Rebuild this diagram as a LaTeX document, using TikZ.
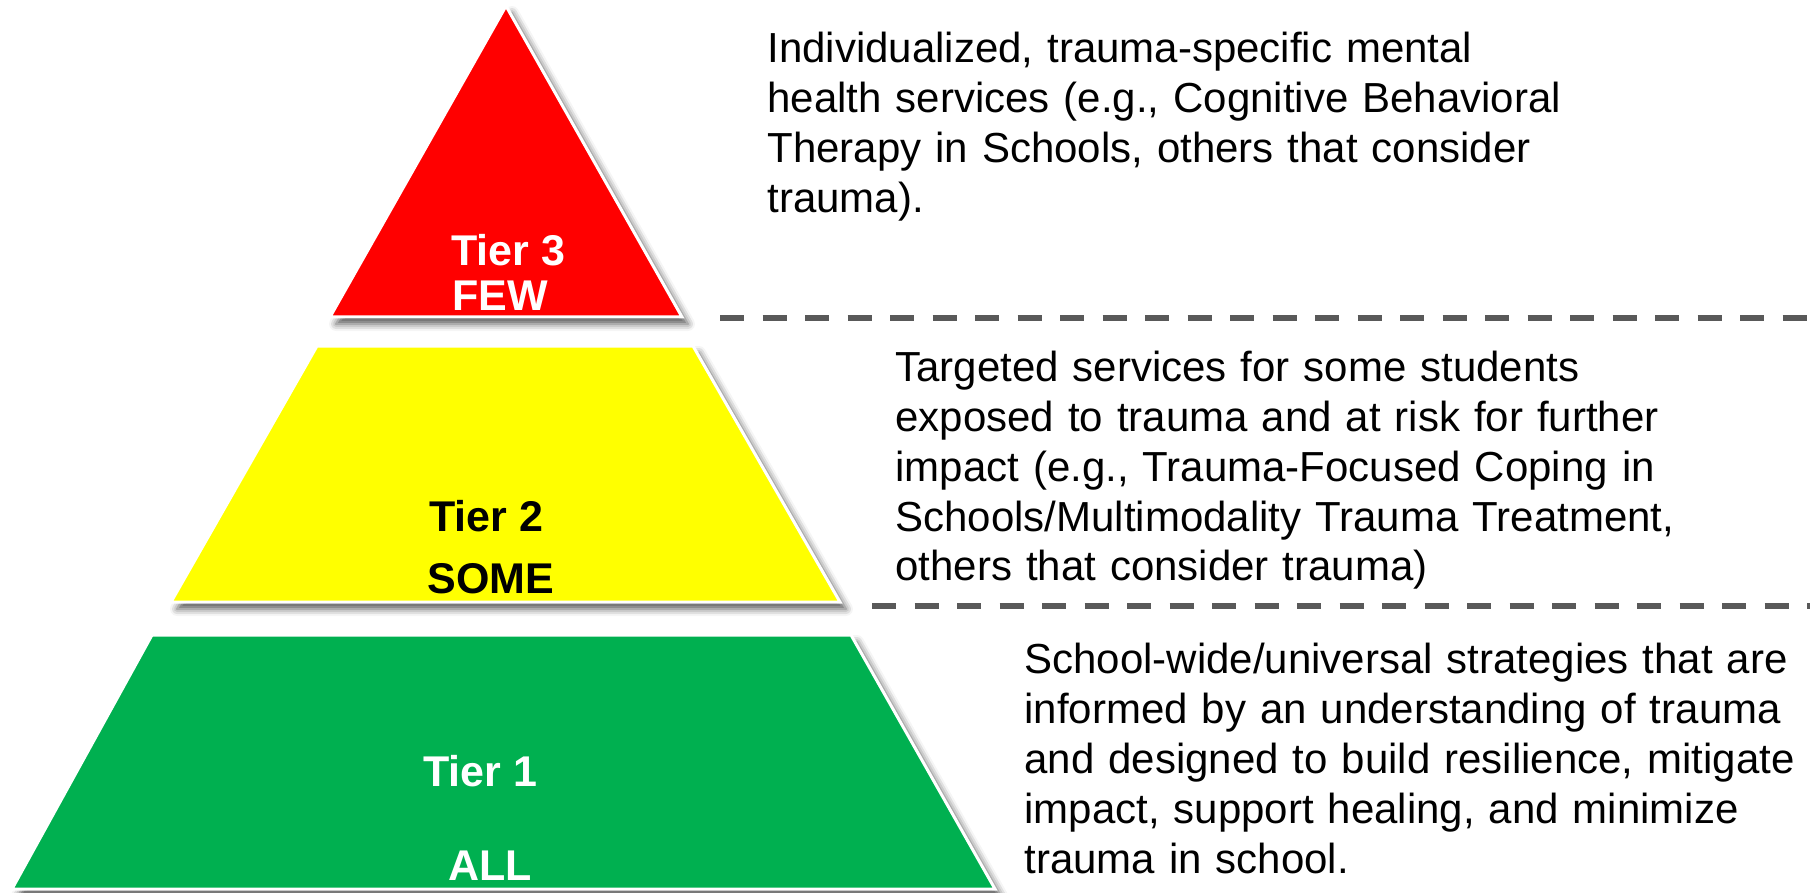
\documentclass[tikz,border=0pt]{standalone}
\usepackage{fontspec}
\setmainfont{Liberation Sans}
\usetikzlibrary{shadows.blur}
\definecolor{tierred}{HTML}{FF0000}
\definecolor{tieryellow}{HTML}{FFFF00}
\definecolor{tiergreen}{HTML}{00B050}
\definecolor{sepgrey}{HTML}{595959}
\begin{document}
\begin{tikzpicture}[x=0.5pt,y=-0.5pt,
  tier/.style={draw=white, line width=1.5pt, line join=miter,
    blur shadow={shadow xshift=3pt, shadow yshift=-3.5pt,
      shadow blur radius=3.5pt, shadow opacity=65}},
  tierlabel/.style={font=\bfseries\fontsize{21.5}{25}\selectfont,
    inner sep=0pt, anchor=base},
  desc/.style={font=\fontsize{21}{25}\selectfont, inner sep=0pt,
    anchor=base west, text width=440pt, align=left},
  sep/.style={draw=sepgrey, line width=3.3pt, dash pattern=on 12pt off 9.25pt}]
\useasboundingbox (0,0) rectangle (1810,893);

% pyramid levels
\path[tier, fill=tierred] (506,6) -- (682,317) -- (330,317) -- cycle;
\path[tier, fill=tieryellow] (317,346) -- (693,346) -- (840,602) -- (171,602) -- cycle;
\path[tier, fill=tiergreen] (152,635) -- (851,635) -- (995,889) -- (12,889) -- cycle;

% level labels
\node[tierlabel, text=white] (t3) at (508,266) {Tier 3};
\node[tierlabel, text=white] (few) at (500,311) {FEW};
\node[tierlabel] (t2) at (486,531) {Tier 2};
\node[tierlabel] (some) at (491,593) {SOME};
\node[tierlabel, text=white] (t1) at (480,786) {Tier 1};
\node[tierlabel, text=white] (all) at (490,880) {ALL};

% separators
\coordinate (s1a) at (720,318);
\coordinate (s1b) at (1810,318);
\coordinate (s2a) at (872,606);
\coordinate (s2b) at (1810,606);
\draw[sep] (s1a) -- (s1b);
\draw[sep] (s2a) -- (s2b);

% descriptions
\node[desc] (d3) at (767,63) {Individualized, trauma-specific mental\\
health services (e.g., Cognitive Behavioral\\
Therapy in Schools, others that consider\\
trauma).};
\node[desc] (d2) at (895,381) {Targeted services for some students\\
exposed to trauma and at risk for further\\
impact (e.g., Trauma-Focused Coping in\\
Schools/Multimodality Trauma Treatment,\\
others that consider trauma)};
\node[desc] (d1) at (1024,673) {School-wide/universal strategies that are\\
informed by an understanding of trauma\\
and designed to build resilience, mitigate\\
impact, support healing, and minimize\\
trauma in school.};
\end{tikzpicture}
\end{document}
